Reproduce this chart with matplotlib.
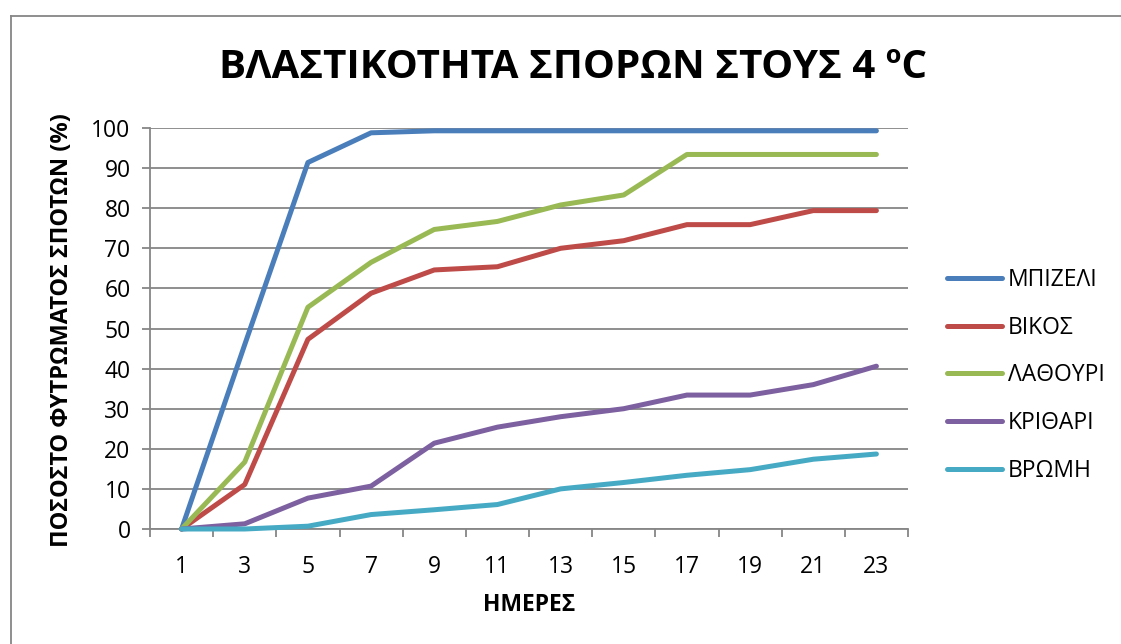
import matplotlib
matplotlib.use("Agg")
import matplotlib.pyplot as plt
from matplotlib.lines import Line2D

# data
days = ["1", "3", "5", "7", "9", "11", "13", "15", "17", "19", "21", "23"]
mpizeli = [0, 46, 91.4, 98.8, 99.3, 99.3, 99.3, 99.3, 99.3, 99.3, 99.3, 99.3]
vikos = [0, 11.1, 47.3, 58.8, 64.6, 65.4, 70.0, 71.9, 75.9, 75.9, 79.4, 79.4]
lathouri = [0, 16.7, 55.3, 66.5, 74.7, 76.7, 80.8, 83.3, 93.4, 93.4, 93.4, 93.4]
krithari = [0, 1.3, 7.7, 10.7, 21.4, 25.4, 28.0, 30.0, 33.4, 33.4, 36.0, 40.6]
vromi = [0, 0, 0.7, 3.6, 4.8, 6.1, 10.0, 11.6, 13.4, 14.8, 17.4, 18.7]

names = ["ΜΠΙΖΕΛΙ", "ΒΙΚΟΣ", "ΛΑΘΟΥΡΙ", "ΚΡΙΘΑΡΙ", "ΒΡΩΜΗ"]
series = [mpizeli, vikos, lathouri, krithari, vromi]
colors = ["#4A7EBB", "#BE4B48", "#98B954", "#7D60A0", "#46AAC5"]

plt.rcParams['font.family'] = ['Open Sans', 'DejaVu Sans']
grid_col = "#868686"

W, H = 1121, 644
fig = plt.figure(figsize=(W / 100, H / 100), dpi=100)
ax = fig.add_axes([150 / W, 1 - 529 / H, (908 - 150) / W, (529 - 128) / H])

xs = list(range(len(days)))
for vals, name, c in zip(series, names, colors):
    ax.plot(xs, vals, color=c, lw=3.6, label=name, solid_capstyle='round',
            solid_joinstyle='round', clip_on=False, zorder=3)

ax.set_xlim(-0.5, len(days) - 0.5)
ax.set_ylim(0, 100)
ax.set_yticks(range(0, 101, 10))
ax.grid(axis='y', color=grid_col, lw=1.3)
ax.set_axisbelow(True)

# category axis: ticks between categories, labels at centres
ax.set_xticks([i - 0.5 for i in range(len(days) + 1)])
ax.set_xticklabels([])
ax.set_xticks(xs, minor=True)
ax.set_xticklabels(days, minor=True)
ax.tick_params(axis='x', which='major', length=6, width=1.3, color=grid_col)
ax.tick_params(axis='x', which='minor', length=0, pad=19, labelsize=16.5)
ax.tick_params(axis='y', length=6, width=1.3, color=grid_col, labelsize=16.5, pad=8)

for s in ['top', 'right']:
    ax.spines[s].set_visible(False)
for s in ['left', 'bottom']:
    ax.spines[s].set_color(grid_col)
    ax.spines[s].set_linewidth(1.3)

fig.text(573 / W, 1 - 68 / H, "ΒΛΑΣΤΙΚΟΤΗΤΑ ΣΠΟΡΩΝ ΣΤΟΥΣ 4 ºC", ha='center', va='center',
         fontsize=29, fontweight='bold')
fig.text(62 / W, 1 - 330 / H, "ΠΟΣΟΣΤΟ ΦΥΤΡΩΜΑΤΟΣ ΣΠΟΤΩΝ (%)", ha='center', va='center',
         rotation=90, fontsize=17, fontweight='bold')
fig.text(529 / W, 1 - 605 / H, "ΗΜΕΡΕΣ", ha='center', va='center',
         fontsize=16.5, fontweight='bold')

leg = fig.legend(loc='upper left', bbox_to_anchor=(938 / W, 1 - 259 / H), frameon=False,
                 fontsize=16.5, handlelength=2.4, handletextpad=0.25, labelspacing=1.03,
                 borderaxespad=0)

# chart-area border (only left and top edges visible in the reference)
fig.add_artist(Line2D([11 / W, 11 / W], [0, 1 - 16 / H], color=grid_col, lw=1.3))
fig.add_artist(Line2D([11 / W, 1], [1 - 16 / H, 1 - 16 / H], color=grid_col, lw=1.3))

fig.savefig("out.png", dpi=100)
